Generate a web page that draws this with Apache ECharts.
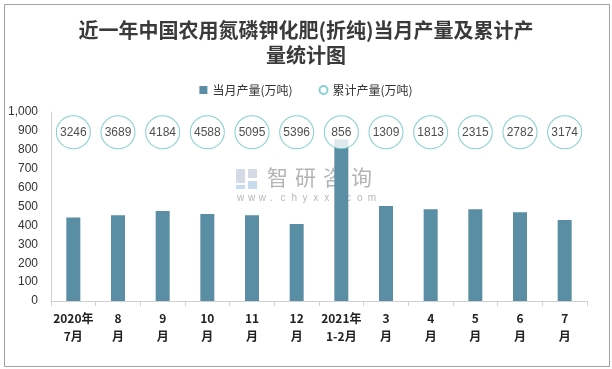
<!DOCTYPE html>
<html><head><meta charset="utf-8">
<script src="https://cdn.jsdelivr.net/npm/echarts@6/dist/echarts.min.js"></script>
<style>html,body{margin:0;padding:0;background:#fff}#c{width:612px;height:369px}</style>
</head><body><div id="c"></div>
<script>
const categories = ['2020年\n7月','8\n月','9\n月','10\n月','11\n月','12\n月','2021年\n1-2月','3\n月','4\n月','5\n月','6\n月','7\n月'];
const monthly = [442, 454, 476, 460, 454, 407, 856, 502, 486, 486, 470, 428];
const cumulative = [3246, 3689, 4184, 4588, 5095, 5396, 856, 1309, 1813, 2315, 2782, 3174];
const yTicks = [0,100,200,300,400,500,600,700,800,900,1000];

const circleY = 893;

const wmChars = '智研咨询'.split('');
const wmUrl = 'www.chyxx.com'.split('');
const wm = [
  {type:'rect', shape:{x:0,y:0,width:9,height:14}, style:{fill:'#d4dbe6'}},
  {type:'rect', shape:{x:12,y:0,width:9,height:9}, style:{fill:'#d4dbe6'}},
  {type:'rect', shape:{x:0,y:16,width:9,height:4}, style:{fill:'#c6dcee'}},
  {type:'rect', shape:{x:12,y:12,width:9,height:8}, style:{fill:'#c6dcee'}}
];
wmChars.forEach((ch,i)=>wm.push({type:'text', style:{x:31+i*28, y:-2, text:ch, fontFamily:'Noto Sans CJK SC', fontSize:21, fill:'#b4b4b4'}}));
wmUrl.forEach((ch,i)=>wm.push({type:'text', style:{x:1+i*10.9, y:24, text:ch, fontFamily:'Liberation Sans', fontSize:10, fill:'#b8b8b8'}}));

const chart = echarts.init(document.getElementById('c'), null, {renderer:'canvas'});
chart.setOption({
  animation:false,
  backgroundColor:'#fff',
  title:{
    text:'近一年中国农用氮磷钾化肥(折纯)当月产量及累计产\n量统计图',
    left:'center', top:13,
    textStyle:{fontFamily:'Noto Sans CJK SC', fontSize:20, fontWeight:'bold', color:'#3a3a3a', lineHeight:25}
  },
  legend:{
    top:79, left:'center', itemGap:26, itemWidth:8, itemHeight:8,
    textStyle:{fontFamily:'Noto Sans CJK SC', fontSize:12, color:'#333'},
    data:[{name:'当月产量(万吨)', icon:'rect'},{name:'累计产量(万吨)', icon:'circle'}]
  },
  grid:{left:51, right:25, top:112, bottom:68},
  xAxis:{
    type:'category', data:categories, boundaryGap:true,
    axisLine:{lineStyle:{color:'#d0d0d0'}},
    axisTick:{show:true, length:5, lineStyle:{color:'#d0d0d0'}},
    axisLabel:{fontFamily:'Noto Sans CJK SC', fontSize:12, fontWeight:'bold', color:'#222', lineHeight:18, margin:8, interval:0}
  },
  yAxis:{
    type:'value', min:0, max:1000, interval:100,
    axisLine:{show:true, lineStyle:{color:'#d0d0d0'}},
    axisTick:{show:false},
    splitLine:{show:false},
    axisLabel:{fontFamily:'Liberation Sans', fontSize:12, color:'#333', margin:13,
      formatter:v=> yTicks.includes(v) ? v.toLocaleString('en-US') : ''}
  },
  graphic:[
    {type:'rect', left:2, top:2, shape:{width:605, height:362}, style:{fill:'none', stroke:'#a0a0a0', lineWidth:1}, z:-1},
    {type:'group', left:236, top:167, z:-1, silent:true, children:wm}
  ],
  series:[
    {
      name:'当月产量(万吨)', type:'bar', data:monthly, barWidth:14,
      itemStyle:{color:'#5a8ea4'}, z:2
    },
    {
      name:'累计产量(万吨)', type:'scatter',
      data:cumulative.map((v,i)=>({value:[i, circleY]})),
      symbol:'circle', symbolSize:[34,33],
      itemStyle:{color:'#fff', borderColor:'#6cc4c4', borderWidth:1},
      label:{show:true, position:'inside', formatter:p=>String(cumulative[p.dataIndex]),
        fontFamily:'Liberation Sans', fontSize:12, color:'#222'},
      z:3
    }
  ]
});
</script></body></html>
